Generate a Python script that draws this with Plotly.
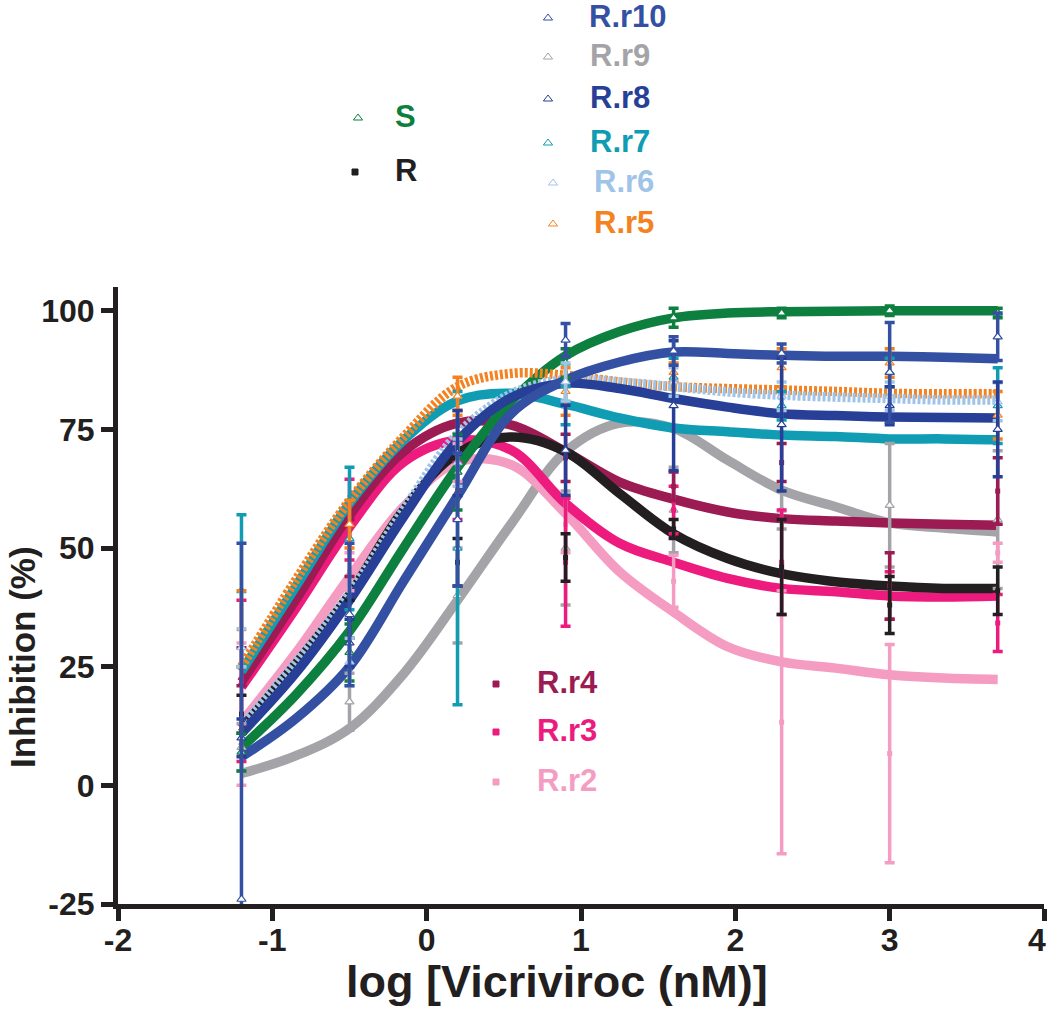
import plotly.graph_objects as go

# x positions of the measured points and of the read-off fitted curves
x_points = [-1.2, -0.5, 0.2, 0.9, 1.6, 2.3, 3.0, 3.7]
x_curve = [-1.2, -0.85, -0.5, -0.15, 0.2, 0.55, 0.9, 1.25, 1.6, 1.95, 2.3, 2.65, 3.0, 3.35, 3.7]

series_names = ["S", "R", "R.r10", "R.r9", "R.r8", "R.r7", "R.r6", "R.r5", "R.r4", "R.r3", "R.r2"]

curve_S = [8, 19, 32.5, 50, 67, 81, 90.5, 95.6, 98.5, 99.5, 99.8, 99.9, 100, 100, 100]
curve_R = [12, 25.5, 40.2, 58, 70, 73.4, 70.3, 61.5, 53, 47.8, 44.6, 42.9, 42, 41.5, 41.5]
curve_r10 = [6, 14, 25, 43, 61, 78.4, 85.4, 89.2, 91.3, 91, 90.6, 90.4, 90.4, 90.2, 89.9]
curve_r9 = [2.5, 6.2, 12, 23.5, 39, 55.2, 70.3, 76.3, 75.2, 68.5, 62.2, 58.7, 55.3, 54.2, 53.4]
curve_r8 = [11, 23.6, 39, 56.6, 72.5, 81.7, 84.7, 83.6, 81.5, 79.7, 78.3, 77.9, 77.6, 77.5, 77.4]
curve_r7 = [24, 41.8, 59.4, 72.7, 81, 82.6, 80.3, 77.4, 75.3, 74.5, 73.8, 73.5, 73, 73, 72.8]
curve_r6 = [12.6, 25.7, 40.4, 58, 74, 82.5, 85.5, 85, 84, 82.9, 82.2, 81.8, 81.5, 81.2, 81.2]
curve_r5 = [25, 43.2, 60, 73.4, 84, 86.8, 86.4, 85, 84, 83.6, 83.3, 83, 82.6, 82.5, 82.5]
curve_r4 = [21.8, 39, 56.9, 70.3, 76.3, 75.9, 70.3, 63.9, 60.3, 57.6, 56.2, 55.7, 55.3, 55, 54.8]
curve_r3 = [20.7, 37.2, 54.4, 68.1, 72.7, 70.6, 59.4, 51, 47, 43.6, 41.5, 40.8, 39.9, 39.7, 39.9]
curve_r2 = [13.3, 27.8, 43.9, 58.7, 68.1, 67.5, 57.3, 45, 36.5, 29.2, 26, 24.7, 23.3, 22.6, 22.3]

mean_S = [7, 28, 66, 89, 98.5, 99.5, 100, 99.5]
mean_R = [15, 35, 47, 48, 54, 46, 38, 41]
mean_r10 = [-24, 36, 56, 93.8, 91.5, 91, 87, 94.5]
mean_r9 = [8, 17.6, 40, 50, 58, 58, 59, 56]
mean_r8 = [10, 30, 70, 70.6, 80, 76, 80, 75]
mean_r7 = [41, 52, 50, 80, 86, 80, 87, 80]
mean_r6 = [29, 26, 68, 85, 85, 82, 82, 80.8]
mean_r5 = [33, 55, 82, 83, 87, 88, 89, 78]
mean_r4 = [25, 50, 76, 69, 63, 68, 42, 62]
mean_r3 = [22, 56, 62, 47, 58, 47, 40, 34.2]
mean_r2 = [15, 45, 68, 55, 43, 13.3, 6.7, 49]

err_S = [4, 6, 8, 3, 2, 1, 1, 1]
err_R = [4, 4, 5, 5, 2, 10, 6, 5]
err_r10 = [75, 15, 14, 3.5, 3, 2, 10.5, 5]
err_r9 = [5, 6, 10, 12, 9, 4, 13, 14.5]
err_r8 = [4, 5, 9, 9.5, 13.7, 14, 4, 10]
err_r7 = [16, 15, 33, 4, 4, 3, 3, 8]
err_r6 = [4, 5, 5, 4, 3, 3, 3, 4]
err_r5 = [8, 5, 4, 5, 2, 4, 3, 5]
err_r4 = [4, 6, 3, 5, 3, 4, 7, 7]
err_r3 = [17, 8.5, 6, 13.5, 5, 11, 5, 6]
err_r2 = [15, 4, 4, 6, 5.5, 27.7, 23, 2]

x_ticks = [-2, -1, 0, 1, 2, 3, 4]
x_ticktext = ["-2", "-1", "0", "1", "2", "3", "4"]
y_ticks = [-25, 0, 25, 50, 75, 100]
y_ticktext = ["-25", "0", "25", "50", "75", "100"]

curves = dict(zip(series_names, [curve_S, curve_R, curve_r10, curve_r9, curve_r8, curve_r7,
                                 curve_r6, curve_r5, curve_r4, curve_r3, curve_r2]))
means = dict(zip(series_names, [mean_S, mean_R, mean_r10, mean_r9, mean_r8, mean_r7,
                                mean_r6, mean_r5, mean_r4, mean_r3, mean_r2]))
errs = dict(zip(series_names, [err_S, err_R, err_r10, err_r9, err_r8, err_r7,
                               err_r6, err_r5, err_r4, err_r3, err_r2]))

colors = {
    "S": "#0d7f3f", "R": "#231f20", "R.r10": "#3350a3", "R.r9": "#a4a4a8",
    "R.r8": "#283f98", "R.r7": "#109db3", "R.r6": "#9fc4e8", "R.r5": "#f58220",
    "R.r4": "#9b1b52", "R.r3": "#ec1b7d", "R.r2": "#f49cc2",
}
square_series = ["R", "R.r4", "R.r3", "R.r2"]
hatched = ["R.r5", "R.r6"]
draw_order = ["R.r9", "R.r2", "R.r3", "R.r4", "R", "R.r7", "S", "R.r5", "R.r6", "R.r8", "R.r10"]

FONT = "Liberation Sans, Arial, sans-serif"
AX = "#231f20"
W, H = 1050, 1009
# plot area in pixels: left, right, top, bottom
L, RGT, T, B = 118, 1044, 287, 904

fig = go.Figure()

for name in draw_order:
    col = colors[name]
    fig.add_trace(go.Scatter(
        x=x_curve, y=curves[name], mode="lines", line_shape="spline",
        line=dict(color=col, width=9.5, dash="3px,2px" if name in hatched else "solid"),
        showlegend=False, hoverinfo="skip"))

for name in draw_order:
    col = colors[name]
    if name in square_series:
        marker = dict(symbol="square", size=5, color=col)
    else:
        marker = dict(symbol="triangle-up", size=8, color="white", line=dict(color=col, width=1.2))
    fig.add_trace(go.Scatter(
        x=x_points, y=means[name], mode="markers", marker=marker, name=name,
        error_y=dict(type="data", array=errs[name], color=col, thickness=3.5, width=5),
        showlegend=False))

# legend keys on a hidden full-page axis pair (pixel units):
# marker x, text left x, centre y
legend_layout = {
    "S": (358, 393, 116), "R": (355, 393, 170),
    "R.r10": (548, 587, 16), "R.r9": (548, 588, 55), "R.r8": (548, 588, 97),
    "R.r7": (548, 588, 141), "R.r6": (553, 592, 181), "R.r5": (553, 592, 222),
    "R.r4": (496, 535, 682), "R.r3": (496, 535, 730), "R.r2": (496, 535, 780),
}
for name, (mx, tx, cy) in legend_layout.items():
    col = colors[name]
    sq = name in square_series
    fig.add_trace(go.Scatter(
        x=[mx], y=[cy + 2], xaxis="x2", yaxis="y2", mode="markers",
        marker=dict(symbol="square" if sq else "triangle-up-open", size=6 if sq else 8,
                    color=col, line=dict(width=1, color=col)),
        showlegend=False, hoverinfo="skip"))
    fig.add_annotation(
        x=tx, y=cy, xref="x2", yref="y2", text=name, showarrow=False,
        xanchor="left", yanchor="middle",
        font=dict(family=FONT, size=31, color=col, weight="bold"))

fig.add_annotation(
    x=557, y=981, xref="x2", yref="y2", text="log [Vicriviroc (nM)]", showarrow=False,
    xanchor="center", yanchor="middle",
    font=dict(family=FONT, size=45, color=AX, weight="bold"))
fig.add_annotation(
    x=22, y=657, xref="x2", yref="y2", text="Inhibition (%)", showarrow=False,
    textangle=-90, xanchor="center", yanchor="middle",
    font=dict(family=FONT, size=35, color=AX, weight="bold"))

tick_font = dict(family=FONT, size=32, color=AX, weight="bold")

# the last x tick label sits on the page edge, so it is placed as an annotation
fig.add_annotation(
    x=1048, y=940, xref="x2", yref="y2", text=x_ticktext[-1], showarrow=False,
    xanchor="right", yanchor="middle", font=tick_font)

axis_style = dict(
    showgrid=False, zeroline=False, showline=True, linewidth=5, linecolor=AX,
    ticks="outside", ticklen=12, tickwidth=5, tickcolor=AX,
    tickfont=tick_font, automargin=False)

fig.update_layout(
    width=W, height=H, plot_bgcolor="rgba(0,0,0,0)", paper_bgcolor="white",
    margin=dict(l=0, r=0, t=0, b=0), showlegend=False,
    xaxis=dict(domain=[L / W, RGT / W], range=[-2, 4], tickvals=x_ticks,
               ticktext=x_ticktext[:-1] + [""], ticklabelstandoff=-8, **axis_style),
    yaxis=dict(domain=[(H - B) / H, (H - T) / H], range=[-25, 105], tickvals=y_ticks,
               ticktext=y_ticktext, **axis_style),
    xaxis2=dict(domain=[0, 1], range=[0, W], visible=False, anchor="y2"),
    yaxis2=dict(domain=[0, 1], range=[H, 0], visible=False, anchor="x2"),
)

fig.write_html("out.html", config={"displayModeBar": False},
               post_script="document.body.style.margin='0';")
